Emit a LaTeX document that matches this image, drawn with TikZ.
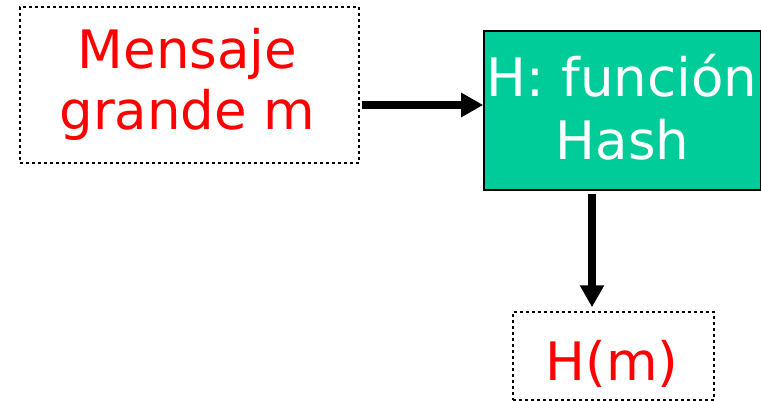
\documentclass[tikz,border=0pt]{standalone}
\usepackage{fontspec}
\setmainfont{DejaVu Sans}
\usetikzlibrary{arrows.meta}
\definecolor{hashgreen}{RGB}{0,204,153}
\begin{document}
\begin{tikzpicture}[x=1pt,y=1pt,
  dotbox/.style={draw=black, line width=1.5pt, dash pattern=on 3pt off 3pt, inner sep=0pt},
  hashbox/.style={draw=black, fill=hashgreen, line width=1.6pt, inner sep=0pt},
  bigtext/.style={font=\fontsize{53}{61}\selectfont, inner sep=0pt, anchor=base},
  flow/.style={line width=7.5pt, -{Triangle[length=22pt,width=23pt]}}]
\useasboundingbox (0,0) rectangle (761,-401);

% boxes
\node[dotbox, minimum width=339pt, minimum height=156pt] (msg) at (189.5,-85) {};
\node[hashbox, minimum width=277pt, minimum height=159pt] (hash) at (622.5,-110.5) {};
\node[dotbox, minimum width=201pt, minimum height=88pt] (res) at (613.5,-356) {};

% texts
\node[bigtext, text=red] (msg1) at (187.5,-69) {Mensaje};
\node[bigtext, text=red] (msg2) at (187.5,-130) {grande m};
\node[bigtext, text=white] (hash1) at (622,-97) {H: función};
\node[bigtext, text=white] (hash2) at (622.5,-160) {Hash};
\node[bigtext, text=red] (res1) at (612,-380) {H(m)};

% connectors
\coordinate (a1) at (0,-105);
\coordinate (a2) at (592,0);
\draw[flow, shorten <=2pt] (msg.east |- a1) -- (hash.west |- a1);
\draw[flow, shorten <=3pt, shorten >=4pt] (hash.south -| a2) -- (res.north -| a2);
\end{tikzpicture}
\end{document}
